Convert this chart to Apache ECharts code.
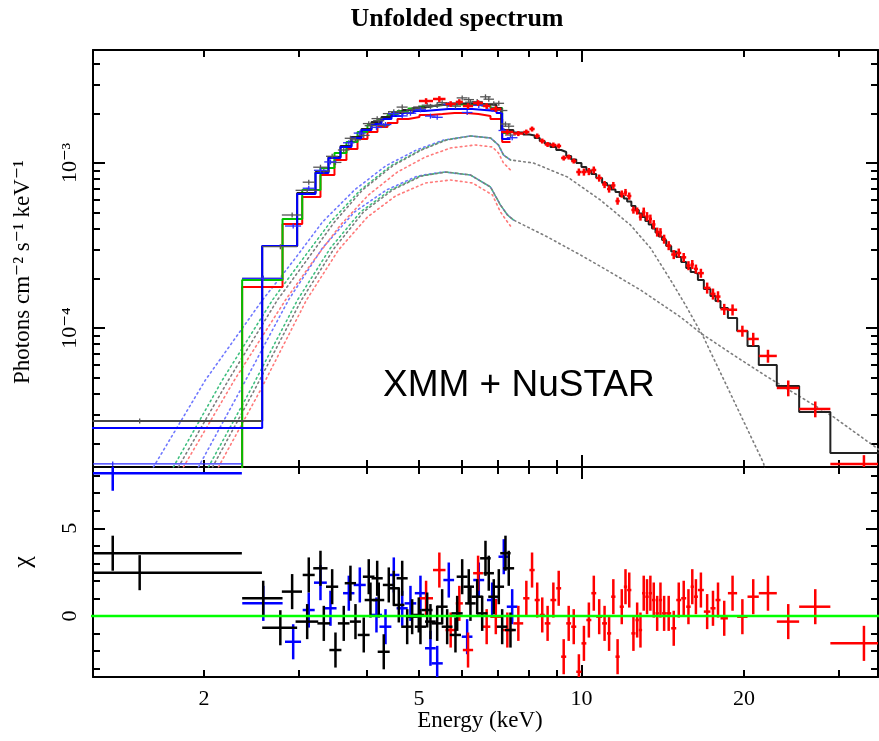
<!DOCTYPE html>
<html><head><meta charset="utf-8">
<script src="https://cdn.jsdelivr.net/npm/echarts@6.0.0/dist/echarts.min.js"></script>
<style>html,body{margin:0;padding:0;background:#fff}#c{width:879px;height:741px}</style>
</head><body><div id="c"></div>
<script>
// ---------------- axis ranges & ticks ----------------
const E_MIN = 1.2457, E_MAX = 35.41;          // keV
const F_MIN = 1.437e-5, F_MAX = 4.84e-3;       // photons cm^-2 s^-1 keV^-1
const CHI_MIN = -3.478, CHI_MAX = 8.495;
const xLabelValues = [2, 5, 10, 20];
const xMajorTicks = [10];
const xMinorTicks = [2, 3, 4, 5, 6, 7, 8, 9, 20, 30];
const fLabelValues = [1e-4, 1e-3];
const fMinorTicks = [2e-5,3e-5,4e-5,5e-5,6e-5,7e-5,8e-5,9e-5,2e-4,3e-4,4e-4,5e-4,6e-4,7e-4,8e-4,9e-4,2e-3,3e-3,4e-3];
const chiLabelValues = [0, 5];
const chiMinorTicks = [-3,-2,-1,1,2,3,4,6,7,8];

const FLUX_UNIT = 1e-3;   // all flux arrays below are in units of 1e-3
const RES_ERR = 1;        // delchi residuals have unit error bars

// ---------------- XMM "black" spectrum ----------------
const xmmBlackE = [1.355,1.52,2.574,2.769,2.912,3.105,3.126,3.286,3.333,3.454,3.503,3.629,3.734,3.815,3.952,4.037,4.067,4.185,4.213,4.304,4.397,4.492,4.589,4.656,4.756,4.858,4.997,5.033,5.179,5.252,5.405,5.521,5.640,5.843,5.886,6.013,6.184,6.229,6.410,6.548,6.641,6.735,6.880,7.029,7.131,7.232,7.334,7.388];
const xmmBlackHalfW = [0.995,1.04,0.221,0.206,0.125,0.15,0.08,0.1,0.09,0.09,0.09,0.09,0.09,0.09,0.1,0.1,0.1,0.1,0.1,0.11,0.11,0.11,0.11,0.11,0.12,0.12,0.12,0.12,0.12,0.12,0.13,0.13,0.13,0.14,0.14,0.14,0.14,0.14,0.15,0.15,0.15,0.15,0.16,0.16,0.16,0.16,0.17,0.17];
const xmmBlackFlux = [0.011,0.0273,0.2001,0.311,0.484,0.683,0.765,0.943,0.894,1.098,1.008,1.199,1.412,1.382,1.470,1.733,1.683,1.858,1.805,1.690,1.992,2.046,2.040,2.182,2.023,2.104,2.157,2.125,2.240,2.206,2.231,2.320,2.240,2.209,2.307,2.481,2.422,2.336,2.356,2.269,2.519,2.436,2.291,2.300,2.080,1.723,1.671,1.478];
const xmmBlackChi = [3.58,2.47,1.01,-0.67,1.39,-0.32,2.34,2.72,-0.42,1.67,-1.94,-0.42,1.87,-0.32,-1.08,2.24,0.91,2.15,0.91,-2.04,1.77,1.58,0.63,2.15,-0.61,-0.04,0.06,-0.61,0.34,-0.32,-0.42,0.53,-0.61,-1.08,0.15,2.24,1.67,0.72,1.1,0.15,3.29,2.44,1.1,1.67,-0.61,3.58,2.72,-0.8];
const xmmFluxRelErr = 0.035;

// ---------------- XMM "blue" spectrum ----------------
const xmmBlueE = [1.355,2.575,2.925,3.126,3.286,3.429,3.708,3.886,4.172,4.336,4.492,4.656,4.823,5.033,5.252,5.405,5.679,6.142,6.454,6.833,7.180,7.442];
const xmmBlueHalfW = [0.995,0.221,0.1,0.08,0.09,0.09,0.09,0.1,0.1,0.11,0.11,0.11,0.12,0.12,0.12,0.13,0.13,0.14,0.15,0.15,0.16,0.17];
const xmmBlueFlux = [0.0150,0.20,0.415,0.703,0.903,1.015,1.326,1.518,1.643,1.711,1.990,1.930,2.004,2.101,1.924,1.892,2.265,2.023,2.234,2.119,1.574,1.423];
const xmmBlueChi = [8.14,0.72,-1.47,0.34,1.9,0.44,1.3,1.77,0.06,-0.61,2.34,0.44,0.72,1.3,-1.84,-2.7,2.05,-1.18,2.05,0.91,3.38,0.53];

// ---------------- NuSTAR "red" spectrum (contiguous bins) ----------------
const redEdges = [5.0,5.31,5.60,5.85,6.03,6.30,6.57,6.78,7.10,7.48,7.80,8.01,8.19,8.37,8.55,8.76,8.98,9.17,9.37,9.57,9.78,10.0,10.21,10.43,10.65,10.92,11.15,11.35,11.56,11.77,11.98,12.15,12.37,12.59,12.77,12.95,13.13,13.32,13.51,13.71,13.91,14.10,14.35,14.66,14.98,15.30,15.63,15.93,16.15,16.43,16.85,17.33,17.71,18.09,18.67,19.42,20.3,21.3,23.0,25.3,28.9,37.8];
const redFlux = [2.375,2.443,2.278,2.343,2.215,2.310,2.215,2.125,1.541,1.509,1.541,1.607,1.458,1.359,1.295,1.286,1.268,1.072,1.087,1.028,0.882,0.882,0.888,0.907,0.811,0.741,0.696,0.731,0.588,0.649,0.663,0.631,0.519,0.512,0.471,0.505,0.474,0.458,0.424,0.382,0.379,0.346,0.316,0.279,0.285,0.268,0.239,0.243,0.228,0.215,0.175,0.161,0.155,0.130,0.129,0.0959,0.0858,0.0677,0.0433,0.0323,0.0150];
const redRelErr = [0.04,0.04,0.04,0.04,0.04,0.04,0.04,0.04,0.035,0.035,0.035,0.035,0.035,0.035,0.035,0.035,0.035,0.035,0.035,0.035,0.05,0.05,0.05,0.05,0.05,0.05,0.05,0.05,0.05,0.05,0.05,0.05,0.05,0.05,0.05,0.063,0.063,0.063,0.063,0.063,0.063,0.063,0.063,0.063,0.063,0.063,0.063,0.063,0.063,0.063,0.077,0.077,0.077,0.077,0.077,0.077,0.09,0.09,0.11,0.11,0.13];
const redChi = [1.01,2.62,-0.8,0.72,-1.94,2.44,-0.61,-0.04,-0.8,-0.42,1.01,2.62,0.91,0.06,-0.42,0.91,1.58,-2.32,-0.42,-0.61,-3.18,-1.56,-0.23,1.3,-0.04,-0.42,-0.99,1.1,-2.32,0.53,1.67,1.48,-0.99,-0.23,-0.8,1.3,1.1,1.3,0.91,0.15,0.91,0.15,0.15,-0.7,0.91,1.01,0.53,1.67,1.1,1.48,0.25,0.44,0.91,-0.13,1.3,-0.04,1.1,1.3,-0.32,0.53,-1.56];

// ---------------- folded models (histograms) ----------------
const blackModelEdges = [1.0,2.563,2.975,3.217,3.400,3.579,3.750,3.914,4.084,4.262,4.448,4.661,4.885,5.120,5.389,5.672,5.969,6.283,6.613,6.960,7.10,7.48,7.80,8.01,8.19,8.37,8.55,8.76,8.98,9.17,9.37,9.57,9.78,10.0,10.21,10.43,10.65,10.92,11.15,11.35,11.56,11.77,11.98,12.15,12.37,12.59,12.77,12.95,13.13,13.32,13.51,13.71,13.91,14.10,14.35,14.66,14.98,15.30,15.63,15.93,16.15,16.43,16.85,17.33,17.71,18.09,18.67,19.42,20.3,21.3,23.0,25.3,28.9,37.8];
const blackModel = [0.0273,0.3140,0.6579,0.8820,1.087,1.268,1.437,1.607,1.772,1.900,2.009,2.095,2.170,2.231,2.278,2.294,2.294,2.278,2.247,2.154,1.585,1.531,1.488,1.468,1.418,1.359,1.313,1.250,1.199,1.166,1.103,1.050,1.000,0.9457,0.9006,0.8577,0.8111,0.7565,0.7305,0.6909,0.6672,0.6310,0.6093,0.5843,0.5488,0.5190,0.4943,0.4707,0.4451,0.4239,0.4009,0.3791,0.3585,0.3415,0.3140,0.2908,0.2694,0.2512,0.2310,0.2185,0.2125,0.1954,0.1723,0.1563,0.1457,0.1322,0.1150,0.0959,0.0778,0.0597,0.0445,0.0310,0.01747];
const blueModelEdges = [1.0,2.563,2.975,3.217,3.400,3.579,3.750,3.914,4.084,4.262,4.448,4.661,4.885,5.120,5.389,5.672,5.969,6.283,6.613,6.960,7.131,7.388];
const blueModel = [0.0248,0.3140,0.6488,0.8697,1.072,1.250,1.418,1.585,1.723,1.848,1.927,2.009,2.066,2.095,2.125,2.125,2.125,2.095,2.066,2.009,1.398];
const greenRedModelEdges = [1.0,2.353,2.795,3.040,3.286,3.488,3.671,3.848,4.015,4.190,4.373,4.563,4.782,5.012,5.252,5.529,5.819,6.124,6.446,6.784,7.131,7.388];
const greenModel = [0.005,0.1954,0.4577,0.6861,0.9326,1.150,1.341,1.541,1.699,1.848,1.954,2.066,2.139,2.200,2.247,2.262,2.262,2.247,2.215,2.154,1.520];
const redModel = [0.005,0.1772,0.4269,0.6222,0.8458,1.043,1.216,1.398,1.541,1.653,1.748,1.848,1.900,1.954,1.981,2.009,2.009,1.981,1.927,1.848,1.341];

// ---------------- model components (dotted) ----------------
const compAGrayE = [1.793,2.220,2.735,3.082,3.488,3.931,4.467,5.055,5.62,6.229,6.784,7.019,7.171,7.388,8.149,9.421,10.84,12.32,13.42,14.62,15.58,16.82,19.12,21.73,22.10];
const compAGrayF = [0.01437,0.04839,0.1478,0.2512,0.4390,0.6861,0.9590,1.199,1.378,1.458,1.418,1.286,1.118,1.043,1.0,0.8225,0.5967,0.4210,0.3054,0.1954,0.1379,0.0882,0.0366,0.01520,0.01199];
const compAGreenE = [1.755,2.163,2.678,3.018,3.429,3.897,4.429,5.033,5.599,6.229,6.784,7.019,7.171,7.388];
const compAGreenF = [0.01437,0.04839,0.1478,0.2512,0.4390,0.6861,0.9590,1.199,1.378,1.458,1.418,1.286,1.118,1.043];
const compABlueE = [1.612,2.012,2.566,2.916,3.314,3.799,4.336,4.948,5.552,6.229,6.784,7.019,7.171,7.388];
const compABlueF = [0.01437,0.04839,0.1478,0.2512,0.4390,0.6861,0.9590,1.199,1.378,1.458,1.418,1.286,1.118,1.043];
const compARedE = [1.832,2.277,2.831,3.176,3.579,4.032,4.563,5.14,5.72,6.364,6.842,7.019,7.171,7.388];
const compARedF = [0.01437,0.04839,0.1478,0.2512,0.4210,0.6398,0.8820,1.087,1.233,1.286,1.250,1.150,1.0,0.9069];
const compBGrayE = [2.074,2.480,3.030,3.488,3.947,4.467,5.055,5.62,6.229,6.784,7.079,7.294,7.483,8.650,9.957,11.13,12.86,15.25,16.61,19.12,22.10,25.44,29.29,35.63];
const compBGrayF = [0.01437,0.04210,0.1478,0.3054,0.5047,0.6861,0.8341,0.8820,0.8458,0.7154,0.5565,0.4840,0.4514,0.3561,0.2770,0.2247,0.1700,0.1166,0.0933,0.0686,0.0505,0.0382,0.0289,0.01822];
const compBGreenE = [2.038,2.438,2.979,3.429,3.897,4.429,5.033,5.599,6.229,6.784,7.079,7.294,7.483];
const compBGreenF = [0.01437,0.04210,0.1478,0.3054,0.5047,0.6861,0.8341,0.8820,0.8458,0.7154,0.5565,0.4840,0.4514];
const compBBlueE = [1.953,2.336,2.867,3.314,3.799,4.354,4.969,5.552,6.229,6.784,7.079,7.294,7.483];
const compBBlueF = [0.01437,0.04210,0.1478,0.3054,0.5047,0.6861,0.8341,0.8820,0.8458,0.7154,0.5565,0.4840,0.4514];
const compBRedE = [2.127,2.545,3.096,3.548,4.015,4.524,5.14,5.72,6.283,6.842,7.079,7.294,7.388];
const compBRedF = [0.01437,0.04210,0.1478,0.2970,0.4707,0.6310,0.7565,0.7888,0.7565,0.6398,0.5047,0.4390,0.4151];

// ---------------- build ----------------
const U = FLUX_UNIT;
const SERIF = '"Liberation Serif", "DejaVu Serif", serif';

function pairs(E, F) { return E.map((e, i) => [e, F[i] * U]); }
function dotted(E, F, color) {
  return { type: 'line', xAxisIndex: 0, yAxisIndex: 0, data: pairs(E, F), symbol: 'none', silent: true, z: 1,
    lineStyle: { color: color, width: 1.6, type: [1.6, 3.4], cap: 'round' } };
}
function stepLine(edges, vals, color, width, z) {
  const d = vals.map((v, i) => [edges[i], v * U]);
  d.push([edges[edges.length - 1], vals[vals.length - 1] * U]);
  return { type: 'line', step: 'end', xAxisIndex: 0, yAxisIndex: 0, data: d, symbol: 'none', silent: true, z: z,
    lineStyle: { color: color, width: width } };
}
function crossSeries(data, color, width, xi, yi, z) {
  return {
    type: 'custom', xAxisIndex: xi, yAxisIndex: yi, clip: true, silent: true, z: z, data: data,
    encode: { x: 0, y: 1 },
    renderItem: function (params, api) {
      const x = api.value(0), y = api.value(1);
      const c = api.coord([x, y]);
      const l = api.coord([api.value(2), y]), r = api.coord([api.value(3), y]);
      const t = api.coord([x, api.value(5)]), b = api.coord([x, api.value(4)]);
      const st = { stroke: color, lineWidth: width };
      return { type: 'group', children: [
        { type: 'line', shape: { x1: l[0], y1: c[1], x2: r[0], y2: c[1] }, style: st },
        { type: 'line', shape: { x1: c[0], y1: t[1], x2: c[0], y2: b[1] }, style: st }
      ] };
    }
  };
}
function fluxCrosses(E, hw, F, relErr) {
  return E.map((e, i) => { const f = F[i] * U, er = Array.isArray(relErr) ? relErr[i] : relErr;
    return [e, f, e - hw[i], e + hw[i], f * (1 - er), f * (1 + er)]; });
}
function resCrosses(E, hw, chi) {
  return E.map((e, i) => [e, chi[i], e - hw[i], e + hw[i], chi[i] - RES_ERR, chi[i] + RES_ERR]);
}
const redCentres = redFlux.map((_, i) => (redEdges[i] + redEdges[i + 1]) / 2);
const redHalfW = redFlux.map((_, i) => (redEdges[i + 1] - redEdges[i]) / 2);

// axes
const AX = { color: '#000', width: 2 };
function xAx(grid, pos, major, labels) {
  return { type: 'log', logBase: 10, gridIndex: grid, position: pos, min: E_MIN, max: E_MAX,
    axisLine: { show: major, onZero: false, lineStyle: AX },
    axisTick: { show: true, inside: true, length: major ? 12 : 7, customValues: major ? xMajorTicks : xMinorTicks, lineStyle: AX },
    axisLabel: { show: !!labels, customValues: xLabelValues, margin: 11, color: '#000', fontFamily: SERIF, fontSize: 22,
      formatter: v => String(Math.round(v)) },
    splitLine: { show: false }, minorTick: { show: false }, minorSplitLine: { show: false } };
}
const supMap = { '-': '⁻', '0': '⁰', '1': '¹', '2': '²', '3': '³', '4': '⁴', '5': '⁵', '6': '⁶', '7': '⁷', '8': '⁸', '9': '⁹' };
function fAx(pos, major, labels) {
  return { type: 'log', logBase: 10, gridIndex: 0, position: pos, min: F_MIN, max: F_MAX,
    axisLine: { show: major, onZero: false, lineStyle: AX },
    axisTick: { show: true, inside: true, length: major ? 12 : 7, customValues: major ? fLabelValues : fMinorTicks, lineStyle: AX },
    axisLabel: { show: !!labels, customValues: fLabelValues, rotate: 90, margin: 12, color: '#000', fontFamily: SERIF, fontSize: 22,
      formatter: v => '10' + String(Math.round(Math.log10(v))).split('').map(ch => supMap[ch]).join('') },
    splitLine: { show: false }, minorTick: { show: false } };
}
function cAx(pos, major, labels) {
  return { type: 'value', gridIndex: 1, position: pos, min: CHI_MIN, max: CHI_MAX,
    axisLine: { show: major, onZero: false, lineStyle: AX },
    axisTick: { show: true, inside: true, length: major ? 12 : 7, customValues: major ? chiLabelValues : chiMinorTicks, lineStyle: AX },
    axisLabel: { show: !!labels, customValues: chiLabelValues, rotate: 90, margin: 12, color: '#000', fontFamily: SERIF, fontSize: 22 },
    splitLine: { show: false }, minorTick: { show: false } };
}

const series = [
  dotted(compBRedE, compBRedF, '#ff7a7a'),
  dotted(compBBlueE, compBBlueF, '#6f78ff'),
  dotted(compBGreenE, compBGreenF, '#3fbf7f'),
  dotted(compBGrayE, compBGrayF, '#7d7d7d'),
  dotted(compARedE, compARedF, '#ff7a7a'),
  dotted(compABlueE, compABlueF, '#6f78ff'),
  dotted(compAGreenE, compAGreenF, '#3fbf7f'),
  dotted(compAGrayE, compAGrayF, '#7d7d7d'),
  stepLine(greenRedModelEdges, redModel, '#ff0000', 2, 2),
  stepLine(greenRedModelEdges, greenModel, '#00c000', 2, 2),
  stepLine(blackModelEdges, blackModel, '#222222', 2, 2),
  stepLine(blueModelEdges, blueModel, '#0000ff', 2, 2),
  crossSeries(fluxCrosses(xmmBlackE, xmmBlackHalfW, xmmBlackFlux, xmmFluxRelErr), '#555555', 1.3, 0, 0, 3),
  crossSeries(fluxCrosses(xmmBlueE, xmmBlueHalfW, xmmBlueFlux, xmmFluxRelErr), '#2a2aff', 1.3, 0, 0, 3),
  crossSeries(fluxCrosses(redCentres, redHalfW, redFlux, redRelErr), '#ff0000', 2.5, 0, 0, 4),
  // residual panel
  crossSeries(resCrosses(xmmBlueE, xmmBlueHalfW, xmmBlueChi), '#0000ff', 2.5, 4, 4, 3),
  crossSeries(resCrosses(redCentres, redHalfW, redChi), '#ff0000', 2.5, 4, 4, 3),
  crossSeries(resCrosses(xmmBlackE, xmmBlackHalfW, xmmBlackChi), '#000000', 2.5, 4, 4, 4),
  { type: 'line', xAxisIndex: 4, yAxisIndex: 4, data: [[1.0, 0], [40, 0]], symbol: 'none', silent: true, z: 5,
    lineStyle: { color: '#00ff00', width: 2.5 } }
];

const option = {
  animation: false,
  backgroundColor: '#ffffff',
  grid: [
    { left: 93, top: 50, width: 785, height: 417 },
    { left: 93, top: 467, width: 785, height: 210 }
  ],
  xAxis: [
    xAx(0, 'bottom', true), xAx(0, 'bottom', false), xAx(0, 'top', true), xAx(0, 'top', false),
    xAx(1, 'bottom', true, true), xAx(1, 'bottom', false), xAx(1, 'top', true), xAx(1, 'top', false)
  ],
  yAxis: [
    fAx('left', true, true), fAx('left', false), fAx('right', true), fAx('right', false),
    cAx('left', true, true), cAx('left', false), cAx('right', true), cAx('right', false)
  ],
  series: series,
  graphic: [
    { type: 'text', x: 457, y: 19, silent: true,
      style: { text: 'Unfolded spectrum', font: 'bold 26px ' + SERIF, fill: '#000', align: 'center', verticalAlign: 'middle' } },
    { type: 'text', x: 23, y: 272, rotation: Math.PI / 2, silent: true,
      style: { text: 'Photons cm⁻² s⁻¹ keV⁻¹', font: '23px ' + SERIF, fill: '#000', align: 'center', verticalAlign: 'middle' } },
    { type: 'text', x: 23, y: 562, rotation: Math.PI / 2, silent: true,
      style: { text: 'χ', font: '26px ' + SERIF, fill: '#000', align: 'center', verticalAlign: 'middle' } },
    { type: 'text', x: 480, y: 721, silent: true,
      style: { text: 'Energy (keV)', font: '23px ' + SERIF, fill: '#000', align: 'center', verticalAlign: 'middle' } },
    { type: 'text', x: 383, y: 386, silent: true,
      style: { text: 'XMM + NuSTAR', font: '37px "Liberation Sans", Arial, sans-serif', fill: '#000', align: 'left', verticalAlign: 'middle' } }
  ]
};
const chart = echarts.init(document.getElementById('c'), null, { renderer: 'canvas', width: 879, height: 741 });
chart.setOption(option);
</script></body></html>
